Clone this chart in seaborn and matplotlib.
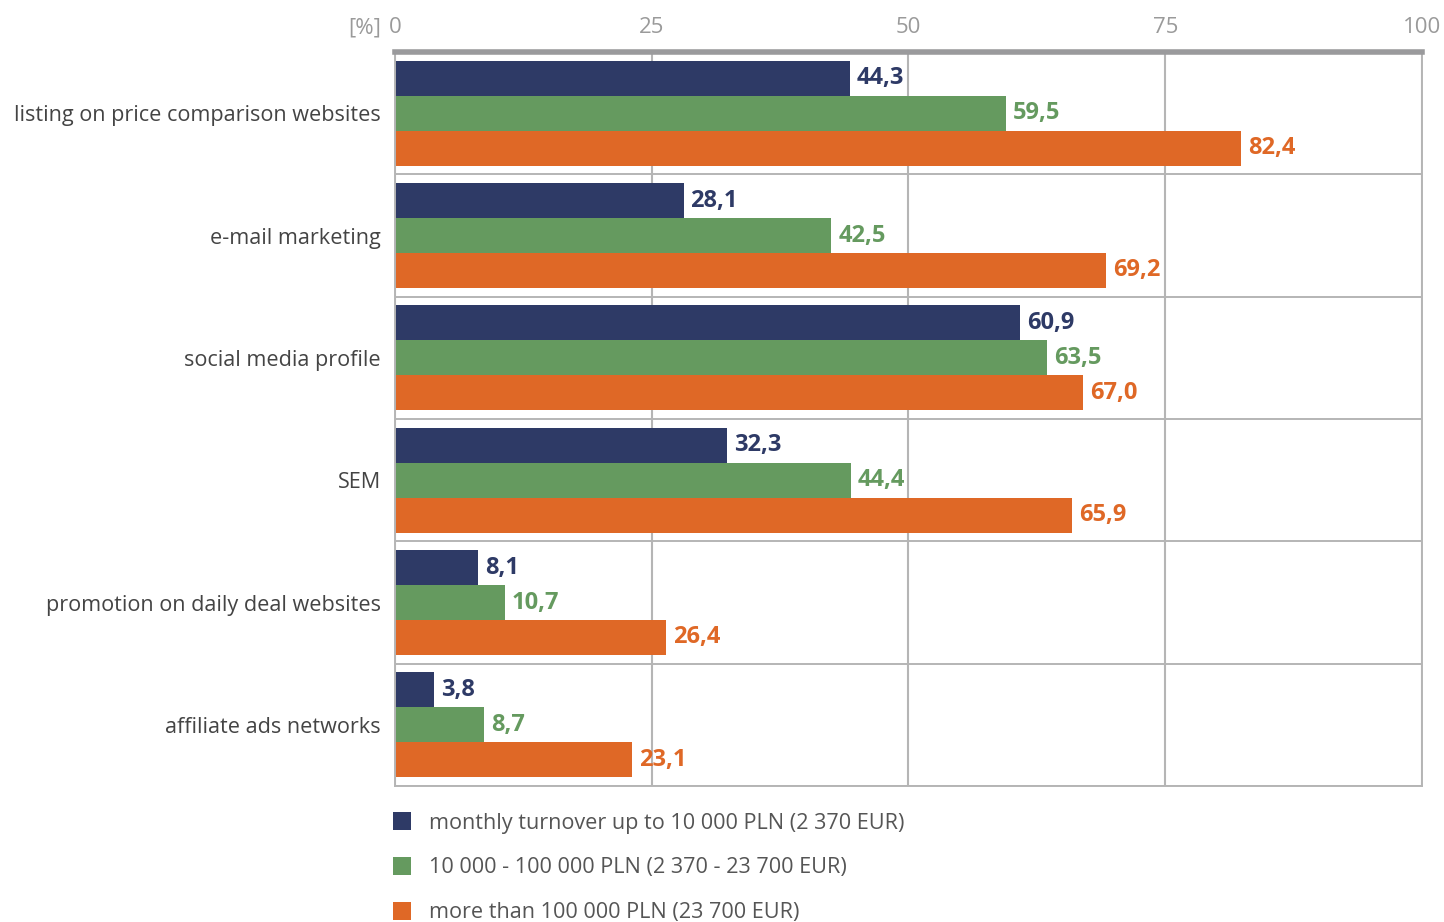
import matplotlib
matplotlib.use("Agg")
import matplotlib.pyplot as plt
import matplotlib.transforms as mtransforms
import seaborn as sns
import pandas as pd

categories = [
    "listing on price comparison websites",
    "e-mail marketing",
    "social media profile",
    "SEM",
    "promotion on daily deal websites",
    "affiliate ads networks",
]
series_names = [
    "monthly turnover up to 10 000 PLN (2 370 EUR)",
    "10 000 - 100 000 PLN (2 370 - 23 700 EUR)",
    "more than 100 000 PLN (23 700 EUR)",
]
small = [44.3, 28.1, 60.9, 32.3, 8.1, 3.8]
medium = [59.5, 42.5, 63.5, 44.4, 10.7, 8.7]
large = [82.4, 69.2, 67.0, 65.9, 26.4, 23.1]
x_ticks = [0, 25, 50, 75, 100]

colors = ["#2E3A66", "#659A5F", "#DF6826"]

rows = []
for name, vals in zip(series_names, [small, medium, large]):
    for cat, v in zip(categories, vals):
        rows.append({"category": cat, "group": name, "value": v})
df = pd.DataFrame(rows)

sns.set_theme(style="white")
plt.rcParams["font.family"] = ["Open Sans", "DejaVu Sans"]

fig = plt.figure(figsize=(14.44, 9.22), dpi=100)
ax = fig.add_axes([0.2735, 0.1475, 0.7113, 0.7961])

sns.barplot(data=df, y="category", x="value", hue="group", order=categories,
            hue_order=series_names, palette=colors, orient="h", width=0.857,
            gap=0, saturation=1, linewidth=0, ax=ax)

for cont, col in zip(ax.containers, colors):
    ax.bar_label(cont, labels=[f"{v:.1f}".replace(".", ",") for v in cont.datavalues],
                 padding=5, color=col, fontsize=17, fontweight="bold")

ax.set_xlim(0, 100)
ax.set_ylim(len(categories) - 0.5, -0.5)
ax.xaxis.tick_top()
ax.set_xticks(x_ticks)
ax.set_xticklabels([str(t) for t in x_ticks], color="#9a9a9a", fontsize=16)
tick_pad = 10
ax.tick_params(axis="x", length=0, pad=tick_pad)
unit_tr = mtransforms.offset_copy(ax.transAxes, fig=fig, x=-10, y=tick_pad, units="points")
ax.text(0, 1.0, "[%]", transform=unit_tr, ha="right", va="bottom",
        color="#9a9a9a", fontsize=16)

ax.set_yticks(range(len(categories)))
ax.set_yticklabels(categories, color="#444444", fontsize=15.6)
ax.set_yticks([i - 0.5 for i in range(len(categories) + 1)], minor=True)
ax.tick_params(axis="y", which="major", length=0, pad=10)
ax.tick_params(axis="y", which="minor", length=14, width=1.2, color="#a0a0a0")
ax.grid(axis="y", which="minor", color="#b5b5b5", linewidth=1.4)
ax.grid(axis="x", which="major", color="#b5b5b5", linewidth=1.5)
ax.set_axisbelow(True)
ax.set_xlabel("")
ax.set_ylabel("")

for side in ["left", "bottom", "right"]:
    ax.spines[side].set_color("#b5b5b5")
    ax.spines[side].set_linewidth(1.4)
ax.spines["top"].set_color("#9a9a9c")
ax.spines["top"].set_linewidth(4)

handles, labels = ax.get_legend_handles_labels()
ax.legend_.remove()
fig.legend(handles, labels, loc="upper left", bbox_to_anchor=(0.263, 0.133),
           frameon=False, fontsize=15.6, handlelength=0.85, handleheight=0.85,
           labelspacing=1.1, handletextpad=0.8, labelcolor="#555555",
           borderaxespad=0.2)

fig.savefig("out.png", dpi=100)
